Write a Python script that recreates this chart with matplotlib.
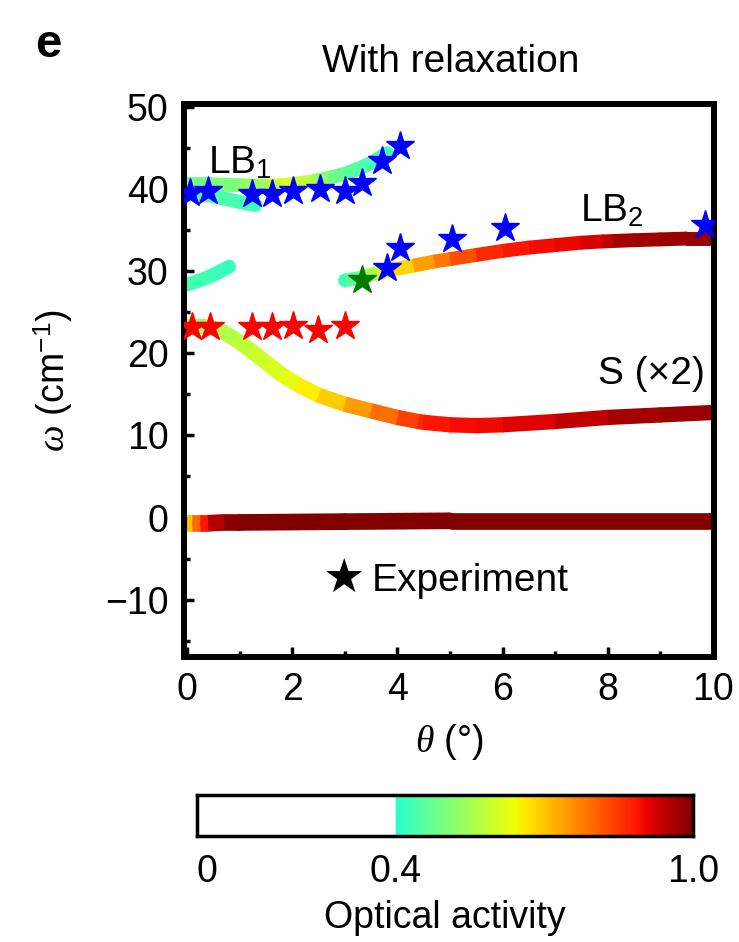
import numpy as np
import matplotlib
matplotlib.use("Agg")
import matplotlib.pyplot as plt
from matplotlib.collections import LineCollection
from matplotlib.colors import ListedColormap, Normalize

plt.rcParams['font.family'] = ['Liberation Sans', 'DejaVu Sans']
plt.rcParams['mathtext.fontset'] = 'custom'
plt.rcParams['mathtext.rm'] = 'Liberation Sans'
plt.rcParams['mathtext.it'] = 'Liberation Serif:italic'
plt.rcParams['mathtext.bf'] = 'Liberation Sans:bold'

# ---------------- data ----------------
# theory branches: theta (deg), omega (cm^-1), optical activity
lb1_up_theta = [0.0, 0.5, 1.0, 1.5, 1.8, 2.1, 2.4, 2.7, 3.0, 3.25, 3.5, 3.8]
lb1_up_omega = [40.6, 40.6, 40.5, 40.4, 40.5, 40.7, 41.0, 41.4, 41.9, 42.5, 43.2, 44.4]
lb1_up_act   = [0.49, 0.49, 0.51, 0.56, 0.60, 0.62, 0.55, 0.50, 0.46, 0.45, 0.44, 0.42]

lb1_lo_theta = [0.0, 0.3, 0.6, 0.9, 1.1, 1.3]
lb1_lo_omega = [39.6, 39.4, 39.0, 38.6, 38.3, 38.1]
lb1_lo_act   = [0.45, 0.45, 0.44, 0.44, 0.43, 0.42]

c_theta = [0.0, 0.2, 0.4, 0.6, 0.8]
c_omega = [28.4, 28.8, 29.3, 29.9, 30.6]
c_act   = [0.43, 0.43, 0.43, 0.42, 0.42]

lb2_theta = [3.0, 3.3, 3.6, 3.9, 4.3, 4.7, 5.0, 5.5, 6.0, 6.5, 7.0, 7.5, 7.9, 8.1, 8.5, 9.0, 9.5, 10.0]
lb2_omega = [28.9, 29.2, 29.8, 30.2, 30.7, 31.2, 31.5, 32.0, 32.5, 32.9, 33.2, 33.5, 33.65, 33.7, 33.8, 33.9, 34.0, 34.0]
lb2_act   = [0.42, 0.50, 0.60, 0.65, 0.71, 0.77, 0.80, 0.85, 0.88, 0.89, 0.90, 0.91, 0.93, 0.96, 0.97, 0.97, 0.98, 0.98]

s_theta = [0.0, 0.3, 0.6, 0.9, 1.2, 1.5, 1.8, 2.1, 2.5, 3.0, 3.5, 4.0, 4.4, 4.5, 5.0, 5.5, 6.0, 7.0, 8.0, 9.0, 10.0]
s_omega = [23.3, 23.3, 22.9, 21.8, 20.4, 18.9, 17.4, 16.2, 14.9, 13.8, 13.0, 12.2, 11.7, 11.6, 11.3, 11.2, 11.3, 11.7, 12.2, 12.5, 12.8]
s_act   = [0.54, 0.55, 0.56, 0.57, 0.59, 0.60, 0.62, 0.64, 0.67, 0.72, 0.77, 0.82, 0.86, 0.88, 0.89, 0.90, 0.90, 0.93, 0.96, 0.97, 0.98]

z_theta = [0.0, 0.1, 0.25, 0.4, 0.7, 1.0, 3.0, 5.0, 10.0]
z_omega = [-0.7, -0.7, -0.7, -0.7, -0.6, -0.6, -0.5, -0.4, -0.4]
z_act   = [0.65, 0.75, 0.85, 0.92, 0.98, 1.0, 1.0, 1.0, 1.0]

# experiment
exp_blue_theta = [0.06, 0.40, 1.23, 1.61, 2.02, 2.53, 3.0, 3.33, 3.71, 4.05,
                  3.8, 4.05, 5.04, 6.05, 9.85]
exp_blue_omega = [39.6, 39.8, 39.4, 39.4, 39.8, 40.0, 39.8, 40.8, 43.4, 45.3,
                  30.4, 32.8, 34.0, 35.3, 35.7]
exp_red_theta = [0.1, 0.44, 1.23, 1.61, 2.02, 2.49, 3.0]
exp_red_omega = [23.2, 23.2, 23.2, 23.2, 23.3, 22.9, 23.3]
exp_green_theta = [3.33]
exp_green_omega = [29.0]

xticks = [0, 2, 4, 6, 8, 10]
yticks = [50, 40, 30, 20, 10, 0, -10]
ytick_labels = ['50', '40', '30', '20', '10', '0', '\u221210']
cb_ticks = [0, 0.4, 1.0]
cb_ticklabels = ['0', '0.4', '1.0']

# ---------------- colormap: white below 0.4, jet above ----------------
jet = plt.get_cmap('jet')
vals = np.linspace(0, 1, 512)
cols = [(1, 1, 1, 1) if v < 0.4 else jet(v) for v in vals]
cmap = ListedColormap(cols)
norm = Normalize(0, 1)

W, H = 739, 942
fig = plt.figure(figsize=(W / 100, H / 100), dpi=100)
ax = fig.add_axes([184 / W, 1 - 657 / H, (714 - 184) / W, (657 - 104) / H])

def colored_line(t, w, a, lw):
    pts = np.column_stack([t, w])
    segs = np.stack([pts[:-1], pts[1:]], axis=1)
    a = np.asarray(a)
    av = 0.5 * (a[:-1] + a[1:])
    lc = LineCollection(segs, colors=cmap(norm(av)), linewidths=lw,
                        capstyle='butt', joinstyle='round', zorder=2)
    ax.add_collection(lc)
    # rounded ends and smooth joints
    ax.scatter(t, w, s=(lw * 0.98) ** 2, c=cmap(norm(a)), marker='o',
               linewidths=0, zorder=1.9)

colored_line(z_theta, z_omega, z_act, 12)
colored_line(s_theta, s_omega, s_act, 11)
colored_line(lb2_theta, lb2_omega, lb2_act, 10)
colored_line(c_theta, c_omega, c_act, 10)
colored_line(lb1_lo_theta, lb1_lo_omega, lb1_lo_act, 10)
colored_line(lb1_up_theta, lb1_up_omega, lb1_up_act, 10)

ms = 21
ax.plot(exp_blue_theta, exp_blue_omega, ls='none', marker='*', ms=ms,
        color='#0000ff', mec='#0000ff', zorder=4)
ax.plot(exp_red_theta, exp_red_omega, ls='none', marker='*', ms=ms,
        color='#ff0000', mec='#ff0000', zorder=4)
ax.plot(exp_green_theta, exp_green_omega, ls='none', marker='*', ms=ms,
        color='#007a00', mec='#007a00', zorder=4)

ax.set_xlim(-0.06, 10.02)
ax.set_ylim(-17, 50.4)
ax.set_xticks(xticks)
ax.set_xticks(np.arange(0, 11, 1), minor=True)
ax.set_yticks(yticks)
ax.set_yticklabels(ytick_labels)
ax.set_yticks(np.arange(-15, 51, 5), minor=True)
for s in ax.spines.values():
    s.set_linewidth(4.3)
ax.tick_params(which='both', direction='in', labelsize=27, width=2.5, pad=11)
ax.tick_params(which='major', length=7)
ax.tick_params(which='minor', length=4)

ax.set_xlabel(r'$\theta$ (°)', fontsize=27, labelpad=10)
ax.set_ylabel(r'$\omega$ (cm$^{\mathrm{-1}}$)', fontsize=27, labelpad=22)

ax.text(0.045, 0.875, r'LB$_{1}$', transform=ax.transAxes, fontsize=28, va='baseline')
ax.text(0.748, 0.787, r'LB$_{2}$', transform=ax.transAxes, fontsize=28, va='baseline')
ax.text(0.782, 0.493, 'S (×2)', transform=ax.transAxes, fontsize=28, va='baseline')
ax.text(0.263, 0.117, '★', transform=ax.transAxes, fontsize=34, va='baseline',
        family=['DejaVu Sans'])
ax.text(0.355, 0.12, 'Experiment', transform=ax.transAxes, fontsize=28, va='baseline')

fig.text(451 / W, 1 - 62 / H, 'With relaxation', fontsize=28, ha='center', va='center')
fig.text(48 / W, 1 - 45 / H, 'e', fontsize=34, fontweight='bold', ha='center', va='center')

# colorbar
cax = fig.add_axes([197 / W, 1 - 836 / H, 496 / W, 41 / H])
grad = np.linspace(0, 1, 512).reshape(1, -1)
cax.imshow(grad, aspect='auto', cmap=cmap, norm=norm, extent=[0, 1, 0, 1])
cax.set_xlim(0, 1)
cax.set_ylim(0, 1)
cax.set_yticks([])
cax.set_xticks(cb_ticks)
cax.set_xticklabels(cb_ticklabels)
cax.tick_params(axis='x', length=0, labelsize=27, pad=13)
cax.get_xticklabels()[0].set_ha('left')
for s in cax.spines.values():
    s.set_linewidth(2.5)
cax.set_xlabel('Optical activity', fontsize=27, labelpad=7)

fig.savefig('out.png', dpi=100)
